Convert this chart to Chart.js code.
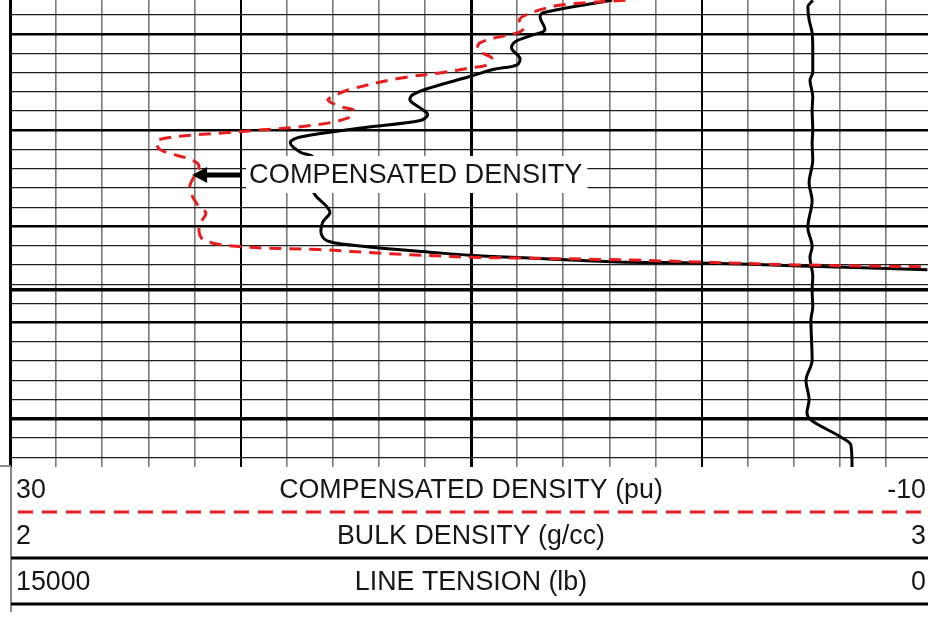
<!DOCTYPE html>
<html><head><meta charset="utf-8">
<script src="https://cdn.jsdelivr.net/npm/chart.js@4.4.1/dist/chart.umd.min.js"></script>
<style>html,body{margin:0;padding:0;overflow:hidden;background:#fff}#wrap{width:940px;height:617px}</style>
</head><body><div id="wrap"><canvas id="c" width="940" height="617"></canvas></div>
<script>
// ---- Compensated density (pu), red dashed ----
const cdDepth = [5006.5,5007.0,5007.8,5008.5,5009.3,5009.8,5010.1,5010.9,5011.7,5012.5,5013.2,5013.5,5014.0,5014.6,5015.8,5016.5,5016.9,5017.6,5017.9,5018.7,5019.5,5020.2,5021.0,5022.0,5023.1,5023.8,5025.9,5028.0,5028.6,5030.0,5031.4,5032.1,5032.4,5032.8,5033.2,5033.3,5033.5,5033.7,5034.0,5034.2];
const cdPu    = [3.3,6.1,7.4,7.9,7.7,7.9,8.4,9.6,9.7,9.1,9.3,10.0,11.2,13.1,15.3,16.0,16.2,15.6,15.1,15.3,16.9,20.3,23.6,23.5,22.1,21.8,22.2,21.8,21.5,21.8,21.6,20.0,16.6,13.8,10.0,7.3,3.0,0.1,-4.3,-9.8];
// ---- Bulk density (g/cc), black solid ----
const bdDepth = [5006.5,5007.8,5008.3,5009.6,5010.1,5010.8,5011.5,5012.5,5013.2,5013.7,5014.5,5015.5,5016.3,5016.9,5017.9,5018.4,5019.0,5019.7,5020.7,5021.3,5022.3,5022.8,5024.7,5026.4,5028.0,5028.6,5029.6,5030.9,5031.6,5032.1,5032.7,5033.0,5033.3,5033.7,5033.8,5034.1,5034.5];
const bdGcc   = [2.653,2.578,2.575,2.580,2.567,2.548,2.544,2.553,2.550,2.524,2.496,2.459,2.437,2.434,2.448,2.453,2.445,2.387,2.315,2.304,2.315,2.329,2.333,2.329,2.344,2.347,2.339,2.338,2.347,2.387,2.459,2.499,2.567,2.658,2.748,2.857,2.995];
// ---- Line tension (lb), black solid ----
const ltDepth = [5006.5,5007.2,5008.5,5009.9,5011.7,5014.0,5014.8,5016.5,5017.9,5020.0,5021.3,5023.1,5025.5,5027.3,5030.1,5032.1,5033.2,5035.2,5036.6,5038.4,5039.7,5043.9,5046.0,5048.0,5049.4,5050.1,5051.9,5052.7,5055.1];
const ltLb    = [1940,2020,2000,1950,1940,1940,1985,1940,1950,1940,1950,1940,2000,1950,2020,1950,1985,1940,1950,1940,1970,1950,2050,2000,2035,1970,1480,1320,1300];

// ---- scale ranges / header labels ----
const cdRange = [30, -10];
const bdRange = [2, 3];
const ltRange = [15000, 0];
const headerLeft  = ['30', '2', '15000'];
const headerTitle = ['COMPENSATED DENSITY (pu)', 'BULK DENSITY (g/cc)', 'LINE TENSION (lb)'];
const headerRight = ['-10', '3', '0'];
const depthTop = 5006.47, depthBottom = 5055.0;
const majorDepths = [5010, 5020, 5030, 5040];
const heavyDepths = [5036.6, 5050];

// annotation
const annoText = 'COMPENSATED DENSITY';
const annoPu = 22.1, annoDepth = 5024.65;

const zip = (ys, xs) => ys.map((d, i) => ({x: xs[i], y: d}));
const FONT = '26.8px "Liberation Sans", Arial, sans-serif';

const overlay = {
  id: 'overlay',
  afterDatasetsDraw(chart) {
    const ctx = chart.ctx, xs = chart.scales.xcd, ys = chart.scales.y;
    const tx = xs.getPixelForValue(annoPu), ty = ys.getPixelForValue(annoDepth);
    ctx.save();
    ctx.font = '27.2px "Liberation Sans", Arial, sans-serif';
    const tw = ctx.measureText(annoText).width;
    const bx = tx + 54, by = ty - 19;
    ctx.fillStyle = '#fff';
    ctx.fillRect(bx, by, tw + 8, 37);
    ctx.fillStyle = '#161616'; ctx.textBaseline = 'middle'; ctx.textAlign = 'left';
    ctx.fillText(annoText, bx + 3, ty + 1);
    ctx.strokeStyle = '#000'; ctx.lineWidth = 5;
    ctx.beginPath(); ctx.moveTo(tx + 49, ty); ctx.lineTo(tx + 12, ty); ctx.stroke();
    ctx.fillStyle = '#000';
    ctx.beginPath(); ctx.moveTo(tx, ty); ctx.lineTo(tx + 15, ty - 8); ctx.lineTo(tx + 15, ty + 8); ctx.closePath(); ctx.fill();
    ctx.restore();
  },
  afterDraw(chart) {
    const ctx = chart.ctx, a = chart.chartArea, R = chart.width;
    ctx.save();
    ctx.strokeStyle = '#8a8a8a'; ctx.lineWidth = 2;
    ctx.beginPath(); ctx.moveTo(11, a.bottom); ctx.lineTo(11, 612); ctx.stroke();
    ctx.beginPath(); ctx.moveTo(0, a.bottom - 1); ctx.lineTo(11, a.bottom - 1); ctx.stroke();
    ctx.strokeStyle = '#e81c1c'; ctx.lineWidth = 3; ctx.setLineDash([15, 9]);
    ctx.beginPath(); ctx.moveTo(18, 512); ctx.lineTo(R, 512); ctx.stroke();
    ctx.setLineDash([]); ctx.strokeStyle = '#000';
    [558, 604].forEach(y => { ctx.beginPath(); ctx.moveTo(11, y); ctx.lineTo(R, y); ctx.stroke(); });
    ctx.font = FONT; ctx.fillStyle = '#161616'; ctx.textBaseline = 'middle';
    const rows = [491, 537, 583];
    const cx = (a.left + a.right) / 2;
    rows.forEach((y, i) => {
      ctx.textAlign = 'left'; ctx.fillText(headerLeft[i], 16, y);
      ctx.textAlign = 'center'; ctx.fillText(headerTitle[i], cx, y);
      ctx.textAlign = 'right'; ctx.fillText(headerRight[i], 926, y);
    });
    ctx.restore();
  }
};

new Chart(document.getElementById('c'), {
  type: 'line',
  data: {
    datasets: [
      {label: 'Compensated density', data: zip(cdDepth, cdPu), xAxisID: 'xcd', yAxisID: 'y',
       borderColor: '#e81c1c', borderWidth: 3, borderDash: [12, 8], pointRadius: 0, tension: 0.35, fill: false},
      {label: 'Bulk density', data: zip(bdDepth, bdGcc), xAxisID: 'xbd', yAxisID: 'y',
       borderColor: '#000', borderWidth: 3, pointRadius: 0, tension: 0.35, fill: false},
      {label: 'Line tension', data: zip(ltDepth, ltLb), xAxisID: 'xlt', yAxisID: 'y',
       borderColor: '#000', borderWidth: 3, pointRadius: 0, cubicInterpolationMode: 'monotone', fill: false}
    ]
  },
  options: {
    responsive: false, animation: false, devicePixelRatio: 1, indexAxis: 'y',
    layout: {padding: {left: 10, right: 8, top: 0, bottom: 150}},
    plugins: {legend: {display: false}, tooltip: {enabled: false}},
    scales: {
      xcd: {type: 'linear', position: 'bottom', min: cdRange[1], max: cdRange[0], reverse: true,
        ticks: {display: false, stepSize: 2}, border: {display: false},
        grid: {drawTicks: false,
          color: c => { const v = c.tick.value; return (v === 30 || v === 20 || v === 10 || v === 0) ? '#000' : '#7a7a7a'; },
          lineWidth: c => { const v = c.tick.value; return (v === 30 || v === 10) ? 3 : (v === 20 || v === 0) ? 2 : 1.6; }}},
      xbd: {type: 'linear', display: false, min: bdRange[0], max: bdRange[1]},
      xlt: {type: 'linear', display: false, min: ltRange[1], max: ltRange[0], reverse: true},
      y: {type: 'linear', position: 'left', min: depthTop, max: depthBottom, reverse: true,
        afterBuildTicks: s => {
          const t = [];
          for (let d = 5008; d <= 5054; d += 2) t.push({value: d});
          heavyDepths.forEach(d => { if (!t.some(k => k.value === d)) t.push({value: d}); });
          s.ticks = t;
        },
        ticks: {display: false}, border: {display: false},
        grid: {drawTicks: false,
          color: c => heavyDepths.includes(c.tick.value) || majorDepths.includes(c.tick.value) ? '#000' : '#1e1e1e',
          lineWidth: c => heavyDepths.includes(c.tick.value) ? 3.5 : majorDepths.includes(c.tick.value) ? 2.5 : 1.3}}
    }
  },
  plugins: [overlay]
});
</script></body></html>
